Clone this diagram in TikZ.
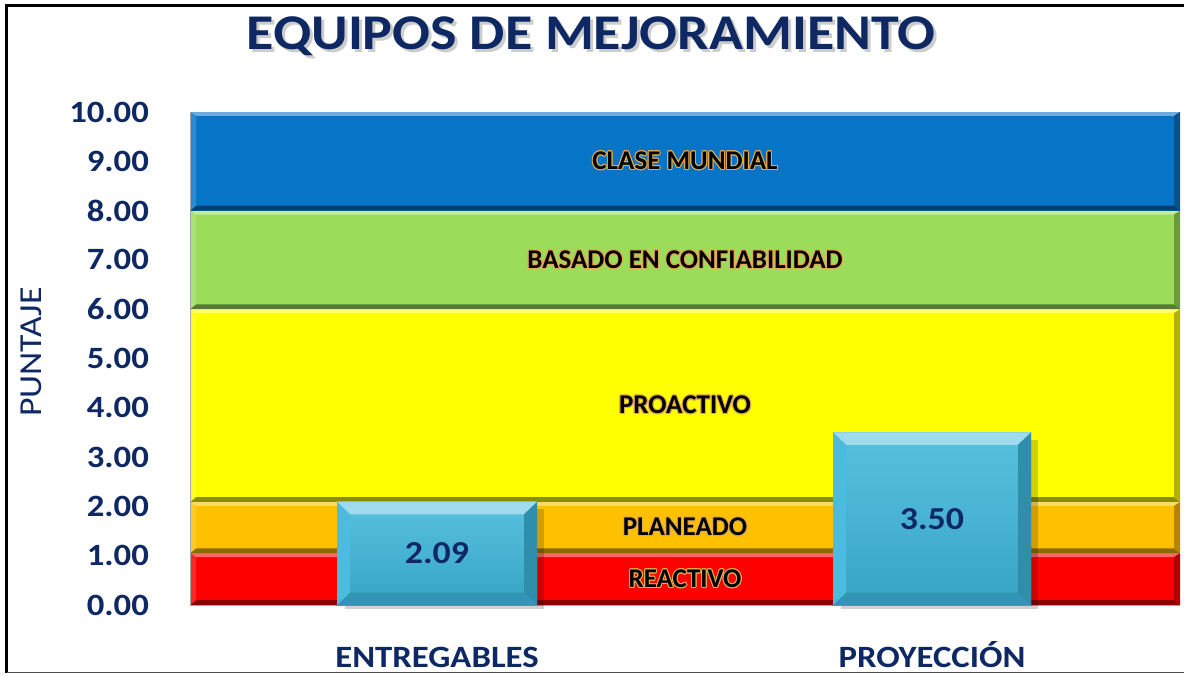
\documentclass[tikz,border=0pt]{standalone}
\usepackage{fontspec}
\setmainfont{Carlito}[FakeStretch=1.12]
\newfontfamily\bandfont{Carlito}
\usepackage{contour}
\contourlength{0.5pt}
\definecolor{navy}{RGB}{14,40,100}
\definecolor{bred}{RGB}{255,0,0}
\definecolor{borange}{RGB}{255,192,0}
\definecolor{byellow}{RGB}{255,255,0}
\definecolor{bgreen}{RGB}{155,221,90}
\definecolor{bblue}{RGB}{6,117,200}
\definecolor{barcol}{RGB}{60,182,218}
\definecolor{glow}{RGB}{225,170,80}
\tikzset{
  titletxt/.style={font=\bfseries\fontsize{25}{30}\selectfont},
  ylab/.style={anchor=east,text=navy,font=\bfseries\fontsize{15.5}{18}\selectfont},
  catlab/.style={anchor=base,text=navy,font=\bfseries\fontsize{15.5}{18}\selectfont},
  bandlab/.style={font=\bandfont\bfseries\fontsize{13.5}{16}\selectfont},
  barlab/.style={text=navy,font=\bfseries\fontsize{16}{19}\selectfont}
}
\begin{document}
\begin{tikzpicture}[x=0.5pt,y=24.65pt]
\useasboundingbox (0,-1.420) rectangle (1184,12.272);
% frame
\draw [line width=1.6pt] (6.5,-1.37) -- (6.5,12.16) -- (1184,12.16);
\draw [gray!60!black,line width=.7pt] (6.5,-1.37) -- (1184,-1.37);
% title with shadow
\node [titletxt,text=gray!40] at (594,11.47) {EQUIPOS DE MEJORAMIENTO};
\node [titletxt,text=navy] (title) at (591,11.54) {EQUIPOS DE MEJORAMIENTO};
% bands
\foreach \lo/\hi/\col/\txt in {0/1.05/bred/REACTIVO,1.05/2.09/borange/PLANEADO,2.09/6/byellow/PROACTIVO,6/8/bgreen/BASADO EN CONFIABILIDAD,8/10/bblue/CLASE MUNDIAL}{
  \fill [\col] (190,\lo) rectangle (1180,\hi);
  \fill [\col!60!white] (190,\hi) -- (1180,\hi) -- (1174,\hi-0.08) -- (196,\hi-0.08) -- cycle;
  \fill [\col!55!black] (190,\lo) -- (1180,\lo) -- (1174,\lo+0.1) -- (196,\lo+0.1) -- cycle;
  \fill [\col!70!black] (1180,\lo) -- (1180,\hi) -- (1174,\hi-0.08) -- (1174,\lo+0.1) -- cycle;
  \fill [\col!85!white] (190,\lo) -- (190,\hi) -- (196,\hi-0.08) -- (196,\lo+0.1) -- cycle;
  \node [bandlab] (band-\col) at (685,{(\lo+\hi)/2}) {\contour{glow}{\txt}};
}
\draw [gray!70] (190,10) -- (190,0) -- (1180,0);
% y axis
\foreach \v in {0,...,10}
  \node [ylab] (y\v) at (156,\v) {\v.00};
\node [rotate=90,text=navy,font=\fontsize{16}{19}\selectfont] (puntaje) at (31,5.13) {PUNTAJE};
% bars
\foreach \xa/\xb/\h/\name/\tag in {337/537/2.09/ENTREGABLES/entregables,833/1031/3.50/PROYECCIÓN/proyeccion}{
  \fill [black,opacity=.18] (\xa+8,-0.08) rectangle (\xb+7,\h-0.15);
  \shade [top color=barcol!85!white,bottom color=barcol!90!black] (\xa,0) rectangle (\xb,\h);
  \fill [barcol!50!white] (\xa,\h) -- (\xb,\h) -- (\xb-13,\h-0.25) -- (\xa+13,\h-0.25) -- cycle;
  \fill [barcol!78!black] (\xb,\h) -- (\xb,0) -- (\xb-13,0.25) -- (\xb-13,\h-0.25) -- cycle;
  \fill [barcol!82!black] (\xa,0) -- (\xb,0) -- (\xb-13,0.25) -- (\xa+13,0.25) -- cycle;
  \fill [barcol!92!white] (\xa,0) -- (\xa,\h) -- (\xa+13,\h-0.25) -- (\xa+13,0.25) -- cycle;
  \node [barlab] (val-\tag) at ({(\xa+\xb)/2},\h/2) {\h};
  \node [catlab] (cat-\tag) at ({(\xa+\xb)/2},-1.27) {\name};
}
\end{tikzpicture}
\end{document}
